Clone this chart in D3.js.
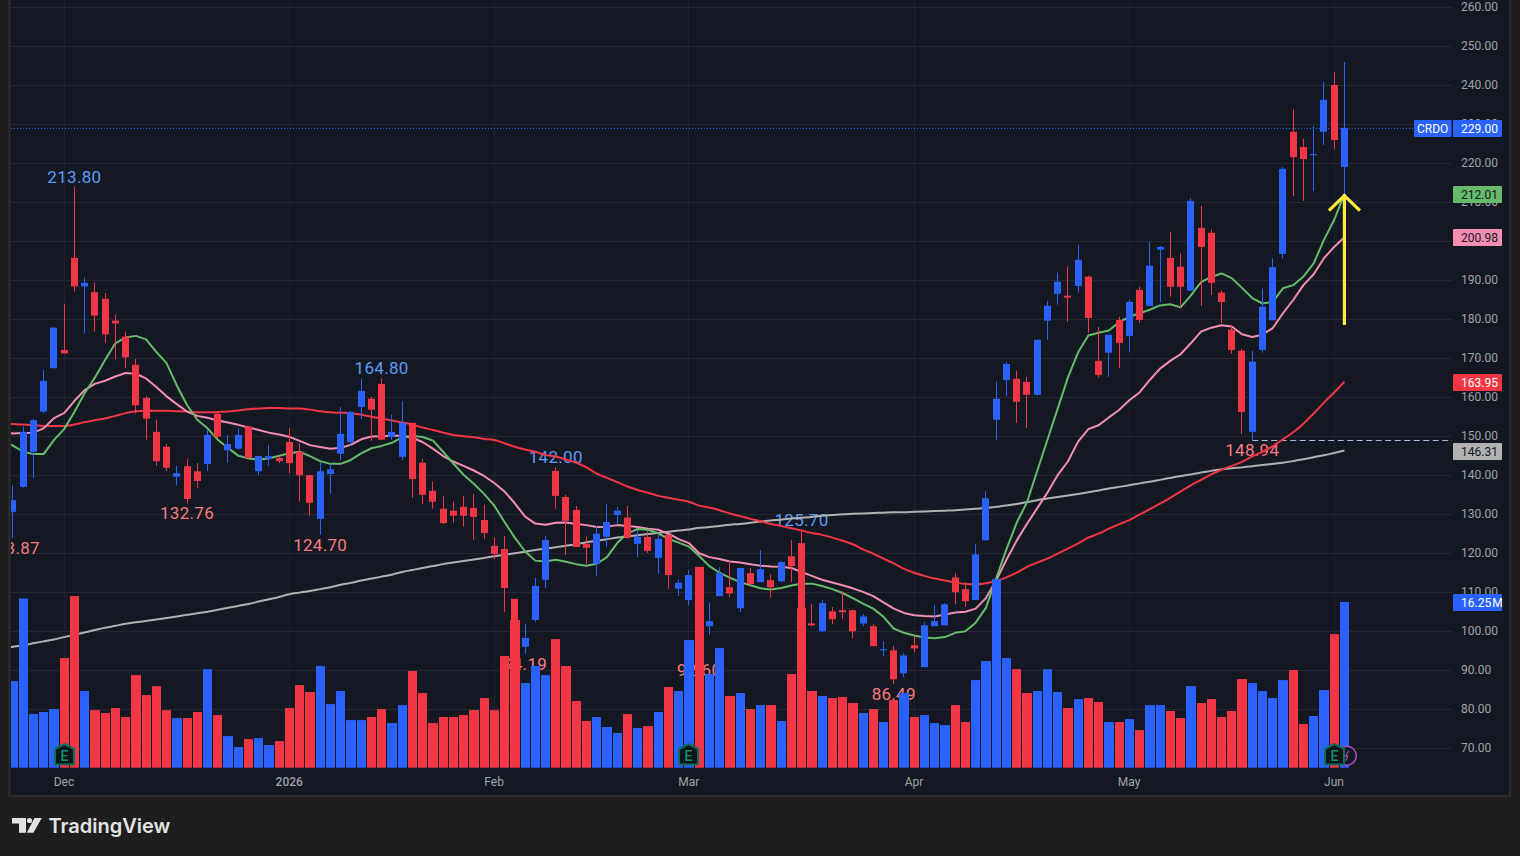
<!DOCTYPE html>
<html>
<head>
<meta charset="utf-8">
<title>CRDO daily chart</title>
<script src="https://cdnjs.cloudflare.com/ajax/libs/d3/7.8.5/d3.min.js"></script>
<style>
  html, body { margin: 0; padding: 0; background: #1e1e1e; overflow: hidden; }
  svg { display: block; }
  text { font-family: Roboto, sans-serif; }
</style>
</head>
<body>
<svg id="chart" width="1520" height="856"></svg>
<script>
// Daily sessions, oldest first (prices in USD, volume in millions of shares).
const opens = [130.6,137,146,156.3,167.4,172.1,195.7,188.4,186.9,185.2,179.6,175.5,168.3,159.8,151.1,147.3,139.6,142.3,141,142.9,
  155.7,146.4,146.8,152.5,141,144.2,144.4,148.5,146,140,128.8,140.3,145.5,148.5,157.5,159.6,163.4,149.8,144.7,153.4,
  143.2,136,131.4,130.9,131.9,131.6,128.5,121.9,121.1,108.3,96,102.9,113.2,141.1,134.4,131.1,122.4,117.3,124.2,129.8,
  129.1,122.4,124.2,118.8,124.7,110.9,108,112,101.3,109,111.3,105.9,114.9,112.6,113.1,112.8,119.2,122.6,102,100,
  105.1,105.4,105.4,102,101.3,95.1,95.1,89.2,96.4,90.8,101.3,101.5,113.8,110.8,108,123.3,154.2,164.4,164.7,163.9,
  160.6,179.6,186.5,186,188.5,190.9,169.3,171.4,179.8,175.7,187.5,183.4,197.8,195.7,193.4,187.3,203.4,202.1,186.8,177.3,
  171.9,151.1,172.1,179.7,196.7,228,224.1,222,228,240,219];
const highs = [137.4,152.5,154.4,167,178,183.9,213.8,190.6,189.3,186.7,181.1,176.8,169.8,160.3,154.2,148,142.4,144.1,143.1,151.6,
  156.2,150.3,152,152.5,145,147.8,145,152.1,148.2,140,143.3,143,157.5,156.5,164.7,160.1,164.8,155.5,159,153.4,
  144.2,138.3,134.7,133.2,134.7,135.2,132.4,123.9,124.4,108.3,101.9,113.7,124.4,142,135,132.1,124.2,127,132.6,131.9,
  132.1,126,125.7,124.7,124.7,113.2,115.7,114,107.4,116.4,118,116.2,116.2,120.8,114.6,118,123.3,125.7,106.9,108,
  106.2,110.3,105.4,104.4,101.8,97.4,96.2,94.4,98.7,102.3,106.7,107.2,114.9,112.6,122.3,135.9,163.9,169,166.8,165.2,
  174.7,184.7,191.9,193.4,199,191.1,178,176,180.6,185,188.3,199.8,198.8,202.4,196.8,211,209,202.9,187.3,178.5,
  172.4,171.9,187.8,195.6,219,233.8,226.2,229.5,240.8,243.3,245.9];
const lows = [123.87,136.8,139.3,155.9,167.4,171.2,187.1,176.3,176.8,174,169.7,167.4,155.8,149.1,142.4,141.1,137.4,132.76,136.8,141.1,
  149.5,143.2,146.5,144.3,140,142.4,143.1,140.5,133.2,129.6,124.7,135.2,143.8,147.5,154.4,148.8,149.1,149.1,143.9,134.2,
  132.6,131.4,127.5,127.8,126.8,123.4,123.7,118.5,105,99.5,94.19,102.4,111.1,131.4,119.6,121.6,117.3,114.2,121.6,127.3,
  123.7,119,120.1,114.7,110.9,109.1,106.7,92.6,99,109,108.7,104.9,111.5,112.6,108.7,112.6,112.6,96,101.3,99.7,
  101.8,103.1,98.2,101.3,96.2,93.6,86.49,88.2,94.6,90.8,101.3,101.5,106.9,106.2,108,123.3,149,160.3,153.4,152.1,
  160.3,174.7,183.7,179.3,186.8,176.5,165,165.2,167.5,171.6,179,183.4,184.4,185.7,182.9,187.3,183.4,186.2,179,171.1,
  150.6,148.94,171.4,179.7,195.6,211.5,210.3,212.8,224.6,223.6,212];
const closes = [133.6,151.1,154.1,164.2,177.8,171.2,188.4,189.3,180.9,176.1,178.9,170.2,157.9,154.5,143.6,141.9,140.5,133.9,138.5,150.3,
  149.9,148,150.3,144.4,144.9,144.9,143.6,143.1,140,132.9,141,141.5,150.6,156.2,161.6,156.8,149.1,151.1,153.4,139,
  135,133.2,127.7,129.6,129.6,129.3,125.2,119.8,111.1,100,98.3,111.6,123.4,134.7,128.3,121.6,121.4,125,128,130.9,
  124,124.2,120.6,123.7,114.4,112.4,114.4,101,102.6,114.9,109.7,116.2,112.1,115.9,111.3,117.7,116.7,101,101.5,107.2,
  103.1,104.9,100,103.8,96.2,95.4,87.7,93.8,95.6,101.5,102.6,106.9,110,107.7,119.7,134.1,159.6,168.5,158.8,160.6,
  174.7,183.4,189.6,185.5,195.2,180.3,165.7,176,173.9,184.4,179.8,193.7,198.5,188.3,188.3,210.3,198.5,189.3,184.4,172.1,
  156.2,169.1,183.2,193.3,218.5,221.5,221,222.3,236.2,225.9,229];
const volumes = [8.5,16.6,5.26,5.46,5.75,10.75,16.83,7.52,5.65,5.36,5.85,4.97,9.08,7.12,8,5.65,4.87,4.87,5.46,9.67,
  5.16,3.1,2.03,2.81,2.91,2.22,2.61,5.85,8.1,7.42,9.97,6.24,7.52,4.67,4.67,4.97,5.75,4.38,6.14,9.48,
  7.32,4.38,4.97,4.97,5.16,5.65,6.83,5.65,10.95,14.48,8.3,9.97,9.08,12.61,9.97,6.54,4.58,4.97,3.99,3.4,
  5.26,3.89,4.08,5.46,7.91,7.52,12.52,19.7,9.18,11.73,7.03,7.32,5.75,6.14,6.14,4.58,9.18,15.65,7.52,7.03,
  6.83,6.93,6.34,5.36,5.75,4.48,6.63,7.32,4.97,5.16,4.38,4.18,6.14,4.48,8.59,10.46,18.5,10.75,9.67,7.32,
  7.52,9.67,7.42,5.85,6.73,6.83,6.44,4.48,4.48,4.77,3.69,6.14,6.14,5.56,4.87,8,6.34,6.73,4.97,5.56,
  8.69,8.3,7.52,6.83,8.59,9.58,4.28,5.07,7.61,13.1,16.25];

// Moving averages: the session just before the window, then one value per session.
const maGreen = [148.9,147.6,146,145.4,145.4,149,151.8,156.2,161,165,169.5,173.8,175.3,175.7,174.8,171.6,168.7,163,158,154.2,152,
  149.1,147,145,144.3,144,144.3,145,145.6,146,144.9,143.6,142.9,142.9,143.9,145.6,146.9,147.5,148.3,149.7,150.1,
  149.8,148.9,146,143,140.1,137.8,135.2,132.2,128,124,120.5,118.1,117.9,118.3,117.8,117.2,116.8,117.3,119,122.6,
  125.1,126.2,126,125.1,123.7,122.7,121.7,119.3,116.7,115,113.7,112.6,111.8,111,110.7,111.1,111.7,112.2,112.2,111.6,
  110.8,109.8,108.5,107.1,105.8,103.7,100.7,99.6,98.9,98.4,98.2,98.5,99.6,100,102.2,106,113.5,121,127.8,133,
  141,149,157,165,171.5,175.8,176.5,177.1,179.2,180.6,181.5,182.4,183.5,183.8,183,186,189.5,190.8,191.7,190.5,
  188,185.4,184,184.4,187.9,188.7,190.9,194.3,200.3,205.4,212.01];
const maPink = [150.9,150.7,150.8,150.9,152,154.6,155.9,159,161.8,163.4,164.2,165.3,166.2,166,164.8,162.6,160.2,158.2,156.3,155.2,154.7,
  154,153.5,152.9,152.2,151.6,150.9,150.4,149.8,148.8,147.7,147.2,146.8,147,147.8,149.2,149.9,150,150.1,150.1,149.6,
  148.5,146.8,144.9,143.5,142.4,141.2,139.8,138,135.8,132.8,129.4,127.6,127.3,127.8,127.9,127.5,127.2,126.7,126.8,127.2,
  127,126.7,126.3,126,125,123.6,122.6,120,119,118.5,117.9,117.6,117.2,116.8,116.6,116.5,116.2,115.2,114.2,113.2,
  112.5,111.8,111,110.1,109,107.4,105.8,104.7,104.1,103.9,103.8,104.3,104.8,105,105.8,108.5,113,118.3,123.2,127.5,
  131.5,135.5,140,143.5,148.6,151.8,152.8,154.8,156.7,159.2,161.2,164.4,167.3,169.3,171,173.8,176.8,177.8,178.4,178.1,
  176.1,175.4,176,177.7,181.5,184.9,188.7,191.5,195.6,198.5,200.98];
const maRed = [153.2,153.1,153,152.8,152.6,152.6,152.6,153,153.6,154.1,154.5,155.2,155.9,156.4,156.5,156.5,156.5,156.4,156.3,156.1,156.1,
  156.2,156.3,156.6,156.9,157.1,157.2,157.2,157.1,157.1,156.8,156.4,156.1,156,155.9,155.5,155,154.5,154,153.5,153,
  152.2,151.6,150.9,150.3,150,149.7,149.3,149,148.2,147.3,146.6,146,145.2,144.8,144,143.2,142,140.4,139.3,138.2,
  137.1,136.2,135.5,134.7,134.2,133.7,133.2,132.2,131.7,131,130.2,129.5,128.8,128.2,127.5,127,126.4,125.8,125.2,124.7,
  124,123.2,122.3,121,119.9,118.6,117.4,116,115,114.2,113.5,113,112.5,112.1,112,112.3,112.9,113.8,115,116.5,
  117.6,118.6,119.9,121.2,122.5,124,125,126.3,127.4,128.5,129.9,131.3,132.7,134.2,135.8,137.4,138.8,140.2,141.4,142.4,
  143.4,144.8,146,147.4,149.2,151,153.2,155.8,158.6,161.2,163.95];
const maGrey = [95.7,96,96.4,96.9,97.4,97.9,98.5,99.1,99.7,100.3,100.9,101.4,101.9,102.3,102.6,103,103.4,103.8,104.2,104.6,105,
  105.5,106,106.5,107,107.6,108.2,108.8,109.5,109.9,110.3,110.8,111.3,111.9,112.4,113,113.5,114,114.5,115.2,115.7,
  116.2,116.7,117.2,117.6,118,118.4,118.8,119.2,119.6,120,120.4,120.8,121.2,121.5,121.9,122.3,122.8,123.2,123.6,124,
  124.3,124.6,124.9,125.2,125.5,125.8,126.1,126.5,126.7,127,127.3,127.5,127.8,128.1,128.4,128.6,128.9,129.1,129.3,129.6,
  129.8,130,130.1,130.2,130.3,130.4,130.5,130.5,130.6,130.7,130.8,130.9,131,131.2,131.4,131.6,131.9,132.2,132.6,133.1,
  133.6,134,134.4,134.8,135.2,135.6,136.1,136.6,137,137.4,137.9,138.3,138.8,139.3,139.8,140.2,140.7,141.1,141.5,141.8,
  142,142.3,142.6,142.9,143.2,143.6,144.1,144.6,145.1,145.7,146.31];

// Month boundaries on the time axis (session index and label).
const monthBars = [5, 27, 47, 66, 88, 109, 129];
const monthLabels = ["Dec", "2026", "Feb", "Mar", "Apr", "May", "Jun"];
const priceTicks = d3.range(70, 261, 10);

// Swing highs and lows that carry a printed value.
const pivotHighBars = [6, 36, 53, 77];
const pivotLowBars = [0, 17, 30, 50, 67, 86, 121];
const earningsBars = [5, 66, 129];

const lastClose = 229.0;
const lastVolume = 16.25;
const arrowFrom = 178.5, arrowTo = 212.01;

const maColors = { green: "#66bb6a", pink: "#f48fb1", red: "#f23645", grey: "#b2b2b2" };
const UP = "#2962ff", DOWN = "#f23645";

const svg = d3.select("#chart");
const plot = { left: 11, right: 1452, top: 0, bottom: 768 };

const x = d3.scaleLinear().domain([0, 130]).range([12.9, 1344.4]);
const y = d3.scaleLinear().domain([240, 70]).range([85, 748.3]);
const yVol = d3.scaleLinear().domain([0, lastVolume]).range([767.7, 602]);
const bar = i => Math.round(x(i) - 0.5);
const isUp = i => closes[i] >= opens[i];
const tone = i => isUp(i) ? UP : DOWN;
const idx = d3.range(opens.length);
const lastOf = a => a[a.length - 1];

// Pane background and frame
svg.append("rect").attr("x", 9.5).attr("y", -3).attr("width", 1500.5).attr("height", 799)
  .attr("fill", "#141823").attr("stroke", "#2c2c2c").attr("stroke-width", 2);

svg.append("defs").append("clipPath").attr("id", "pane")
  .append("rect").attr("x", plot.left).attr("y", 0)
  .attr("width", plot.right - plot.left).attr("height", plot.bottom);

// Grid
const grid = svg.append("g");
grid.selectAll("line.h").data(priceTicks).join("line").attr("class", "h")
  .attr("x1", plot.left).attr("x2", plot.right)
  .attr("y1", d => Math.round(y(d)) + 0.5).attr("y2", d => Math.round(y(d)) + 0.5)
  .attr("stroke", "#252934");
grid.selectAll("line.v").data(monthBars).join("line").attr("class", "v")
  .attr("x1", d => bar(d) + 0.5).attr("x2", d => bar(d) + 0.5)
  .attr("y1", 0).attr("y2", plot.bottom)
  .attr("stroke", "#20242f");

const pane = svg.append("g").attr("clip-path", "url(#pane)");

// Swing labels sit under the lines and the volume columns
const labelFont = 17;
pane.selectAll("text.hi").data(pivotHighBars).join("text").attr("class", "hi")
  .attr("x", d => x(d)).attr("y", d => y(highs[d]) - 10.5)
  .attr("text-anchor", "middle").attr("dominant-baseline", "central")
  .attr("font-size", labelFont).attr("letter-spacing", 0.3).attr("fill", "#5b9cf6")
  .text(d => highs[d].toFixed(2));
pane.selectAll("text.lo").data(pivotLowBars).join("text").attr("class", "lo")
  .attr("x", d => x(d)).attr("y", d => y(lows[d]) + 10)
  .attr("text-anchor", "middle").attr("dominant-baseline", "central")
  .attr("font-size", labelFont).attr("letter-spacing", 0.3).attr("fill", "#f77c80")
  .text(d => lows[d].toFixed(2));

// Reference lines: last price and the latest swing low
pane.append("line").attr("x1", plot.left).attr("x2", plot.right)
  .attr("y1", Math.round(y(lastClose)) + 0.5).attr("y2", Math.round(y(lastClose)) + 0.5)
  .attr("stroke", UP).attr("stroke-dasharray", "1 2");
pane.append("line").attr("x1", x(121)).attr("x2", plot.right)
  .attr("y1", Math.round(y(lows[121])) + 0.5).attr("y2", Math.round(y(lows[121])) + 0.5)
  .attr("stroke", "#a9bcdc").attr("stroke-dasharray", "6 3.5");

// Moving averages; index 0 of each series lies one session left of the first candle
const line = d3.line().x((d, i) => x(i - 1)).y(d => y(d));
const smoothLine = d3.line().x((d, i) => x(i - 1)).y(d => y(d)).curve(d3.curveMonotoneX);
[[maGrey, maColors.grey, smoothLine], [maRed, maColors.red, smoothLine],
 [maPink, maColors.pink, line], [maGreen, maColors.green, line]]
  .forEach(([values, color, gen]) => {
    pane.append("path").datum(values).attr("d", gen)
      .attr("fill", "none").attr("stroke", color).attr("stroke-width", 2)
      .attr("stroke-linejoin", "round");
  });

// Volume columns
pane.selectAll("rect.vol").data(idx).join("rect").attr("class", "vol")
  .attr("x", i => bar(i) - 4)
  .attr("width", i => (i < 130 ? bar(i + 1) - 5 : bar(i) + 5) - (bar(i) - 4))
  .attr("y", i => yVol(volumes[i]))
  .attr("height", i => yVol(0) - yVol(volumes[i]))
  .attr("fill", tone);

// Candles
pane.selectAll("rect.wick").data(idx).join("rect").attr("class", "wick")
  .attr("x", bar).attr("width", 1)
  .attr("y", i => y(highs[i])).attr("height", i => y(lows[i]) - y(highs[i]))
  .attr("fill", tone);
pane.selectAll("rect.body").data(idx).join("rect").attr("class", "body")
  .attr("x", i => bar(i) - 3).attr("width", 7)
  .attr("y", i => y(Math.max(opens[i], closes[i])))
  .attr("height", i => Math.max(1, Math.abs(y(opens[i]) - y(closes[i]))))
  .attr("fill", tone);

// Corporate event markers along the bottom of the pane
const markers = svg.append("g");
const ring = markers.append("g")
  .attr("transform", `translate(${x(130) + 2.4},755.7)`);
ring.append("circle").attr("r", 9.5).attr("fill", "#141823")
  .attr("stroke", "#ab47bc").attr("stroke-width", 1.6);
ring.append("path").attr("d", "M2,-5 L-1.5,0.5 L1,0.5 L-1,5")
  .attr("fill", "none").attr("stroke", "#ab47bc").attr("stroke-width", 1.2);
const badge = markers.selectAll("g.earn").data(earningsBars).join("g").attr("class", "earn")
  .attr("transform", d => `translate(${bar(d) + 0.5},754.5)`);
badge.append("path")
  .attr("d", "M0,-10.5 L9.5,-5.5 L9.5,10 L-9.5,10 L-9.5,-5.5 Z")
  .attr("fill", "#0e1518").attr("stroke", "#0b6e5b").attr("stroke-width", 2)
  .attr("stroke-linejoin", "round");
badge.append("text").attr("text-anchor", "middle").attr("y", 6)
  .attr("font-size", 14).attr("font-weight", 500).attr("fill", "#0c9073").text("E");

// Annotation arrow marking the fast average
const arrow = svg.append("g").attr("fill", "none").attr("stroke", "#ffeb3b")
  .attr("stroke-width", 3.2);
arrow.append("line").attr("x1", x(130)).attr("x2", x(130))
  .attr("y1", y(arrowFrom)).attr("y2", y(arrowTo));
arrow.append("path").attr("d",
  `M${x(130) - 15.5},${y(arrowTo) + 16.5} L${x(130)},${y(arrowTo) + 1.5} L${x(130) + 15.5},${y(arrowTo) + 16.5}`);

// Price axis
const priceAxis = svg.append("g").attr("transform", "translate(1461,0)")
  .call(d3.axisRight(y).tickValues(priceTicks).tickSize(0).tickPadding(0).tickFormat(d3.format(".2f")));
priceAxis.select(".domain").remove();
priceAxis.selectAll("text").attr("font-size", 12).attr("fill", "#9ea2ab")
  .style("font-family", "Roboto, sans-serif").attr("dy", "0.27em");

// Time axis
const timeAxis = svg.append("g").attr("transform", "translate(-0.7,768)")
  .call(d3.axisBottom(x).tickValues(monthBars).tickSize(0).tickPadding(9)
    .tickFormat((d, i) => monthLabels[i]));
timeAxis.select(".domain").remove();
timeAxis.selectAll("text").attr("font-size", 12).attr("fill", "#9ea2ab")
  .style("font-family", "Roboto, sans-serif")
  .attr("font-weight", (d, i) => monthLabels[i] === "2026" ? 500 : 400);

// Value tags on the price axis
const tags = [
  { value: lastOf(maGrey), text: lastOf(maGrey).toFixed(2), fill: maColors.grey, ink: "#131722", at: y },
  { value: lastOf(maRed), text: lastOf(maRed).toFixed(2), fill: maColors.red, ink: "#ffffff", at: y },
  { value: lastOf(maPink), text: lastOf(maPink).toFixed(2), fill: maColors.pink, ink: "#131722", at: y },
  { value: lastOf(maGreen), text: lastOf(maGreen).toFixed(2), fill: maColors.green, ink: "#131722", at: y },
  { value: lastClose, text: lastClose.toFixed(2), fill: UP, ink: "#ffffff", at: y },
  { value: lastVolume, text: lastVolume.toFixed(2) + "\u200aM", fill: UP, ink: "#ffffff", at: yVol }
];
const tagG = svg.append("g").selectAll("g").data(tags).join("g")
  .attr("transform", d => `translate(1453,${Math.round(d.at(d.value))})`);
tagG.append("rect").attr("x", 0).attr("y", -8).attr("width", 49).attr("height", 17)
  .attr("rx", 1).attr("fill", d => d.fill);
tagG.append("text").attr("x", 8).attr("y", 0.5).attr("dy", "0.36em").attr("font-size", 12)
  .attr("fill", d => d.ink)
  .text(d => d.text);

const symbolTag = svg.append("g").attr("transform", `translate(1414,${Math.round(y(lastClose))})`);
symbolTag.append("rect").attr("y", -8).attr("width", 37.5).attr("height", 17).attr("rx", 1).attr("fill", UP);
symbolTag.append("text").attr("x", 18.7).attr("y", 0.5).attr("dy", "0.36em").attr("text-anchor", "middle")
  .attr("font-size", 12).attr("fill", "#ffffff").text("CRDO");

// Footer wordmark
const brand = svg.append("g").attr("fill", "#e3e3e3");
brand.append("path").attr("d", "M12,818 H26 V832.7 H19 V823.4 H12 Z");
brand.append("circle").attr("cx", 29.5).attr("cy", 820.5).attr("r", 2.6);
brand.append("path").attr("d", "M34.5,818 H41.8 L33.4,832.7 H26.8 Z");
brand.append("text").attr("x", 48.5).attr("y", 833).attr("font-size", 20)
  .attr("font-weight", 600).style("font-family", "Inter, sans-serif").text("TradingView");
</script>
</body>
</html>
